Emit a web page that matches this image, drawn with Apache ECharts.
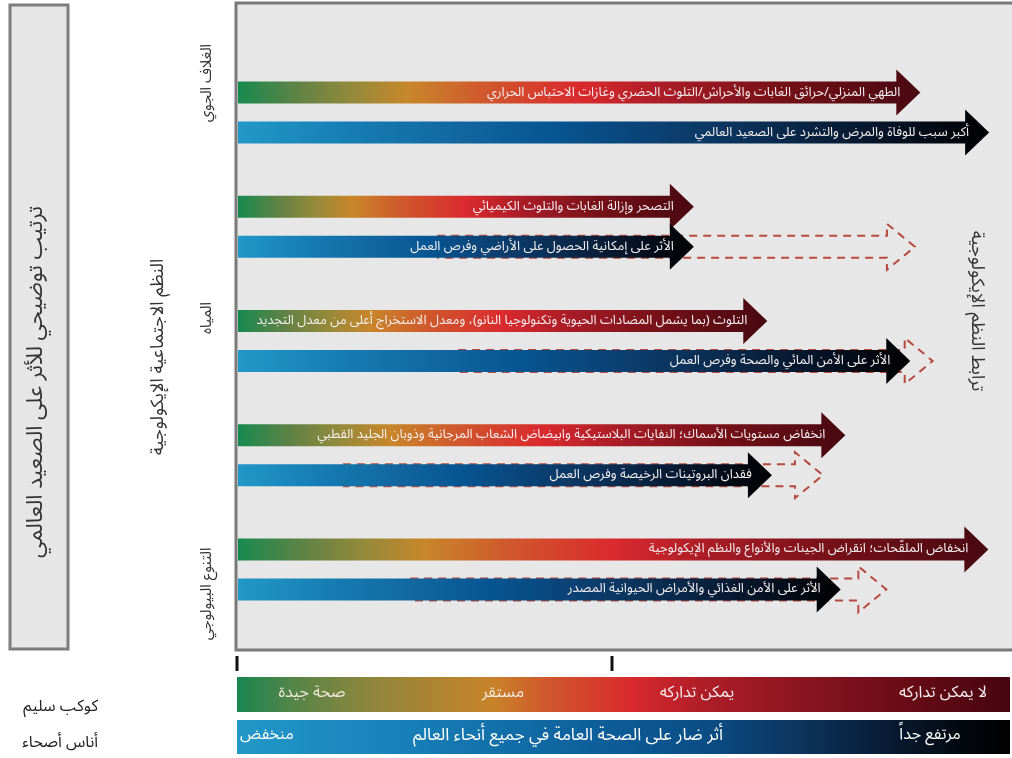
<!DOCTYPE html>
<html>
<head>
<meta charset="utf-8">
<script src="https://cdn.jsdelivr.net/npm/echarts@6/dist/echarts.min.js"></script>
<style>
html,body{margin:0;padding:0;background:#fff;}
#main{width:1012px;height:758px;}
</style>
</head>
<body>
<div id="main" dir="rtl"></div>
<script>
// ---- data ----
const systems = ['الغلاف الجوي', 'الأراضي', 'المياه', 'المحيطات', 'التنوع البيولوجي'];
const ecoLabels = [
  'الطهي المنزلي/حرائق الغابات والأحراش/التلوث الحضري وغازات الاحتباس الحراري',
  'التصحر وإزالة الغابات والتلوث الكيميائي',
  'التلوث (بما يشمل المضادات الحيوية وتكنولوجيا النانو)، ومعدل الاستخراج أعلى من معدل التجديد',
  'انخفاض مستويات الأسماك؛ النفايات البلاستيكية وابيضاض الشعاب المرجانية وذوبان الجليد القطبي',
  'انخفاض الملقّحات؛ انقراض الجينات والأنواع والنظم الإيكولوجية'
];
const ecoImpact = [88.4, 59.1, 68.6, 78.7, 97.2];
const healthLabels = [
  'أكبر سبب للوفاة والمرض والتشرد على الصعيد العالمي',
  'الأثر على إمكانية الحصول على الأراضي وفرص العمل',
  'الأثر على الأمن المائي والصحة وفرص العمل',
  'فقدان البروتينات الرخيصة وفرص العمل',
  'الأثر على الأمن الغذائي والأمراض الحيوانية المصدر'
];
const healthImpact = [97.3, 59.1, 87.1, 69.2, 78.1];
const potentialStart = [null, 25.9, 28.6, 13.7, 22.4];
const potentialImpact = [null, 87.7, 90.0, 75.8, 84.0];

const ecoScale = ['صحة جيدة', 'مستقر', 'يمكن تداركه', 'لا يمكن تداركه'];
const healthScale = ['منخفض', 'أثر ضار على الصحة العامة في جميع أنحاء العالم', 'مرتفع جداً'];
const rowNames = ['كوكب سليم', 'أناس أصحاء'];

const title = 'ترتيب توضيحي للأثر على الصعيد العالمي';
const yTitle = 'النظم الاجتماعية الإيكولوجية';
const rightTitle = 'ترابط النظم الإيكولوجية';

// ---- styles ----
const FONT = "'Noto Sans Arabic','Noto Naskh Arabic','DejaVu Sans',sans-serif";
const ROW = 0.175, BODY = 22, HEAD_H = 46, HEAD_L = 24;
// label nudges along the rotated text direction (style only)
const labelPad = [[0, 0, 0, 59], [0, 0, 0, 22], [0, 0, 0, 46], [0, 0, 0, 18], [0, 49, 0, 0]];
const warmStops = [
  [0, '#178a50'], [0.09, '#628245'], [0.17, '#958a3a'], [0.25, '#c8862a'],
  [0.36, '#d0582c'], [0.5, '#da2a2e'], [0.63, '#a81c26'], [0.8, '#741018'], [1, '#480810']
];
const blueStops = [
  [0, '#2298c8'], [0.15, '#167db4'], [0.3, '#1266a0'], [0.42, '#055592'],
  [0.55, '#0b4275'], [0.7, '#0a2d52'], [0.85, '#06152a'], [1, '#000000']
];
const legWarm = [
  [0, '#188650'], [0.08, '#5a8548'], [0.17, '#8e863c'], [0.33, '#c8832a'], [0.4, '#d0582c'],
  [0.51, '#da2a2e'], [0.6, '#b01e28'], [0.73, '#8a1520'], [0.86, '#6a0c16'], [1, '#450510']
];
const legBlue = [
  [0, '#2298c8'], [0.2, '#1882ba'], [0.35, '#126ea8'], [0.5, '#0c5a96'], [0.6, '#0a4e86'],
  [0.72, '#0c3660'], [0.84, '#081c34'], [0.94, '#03070e'], [1, '#000000']
];
function grad(stops) {
  return {type: 'linear', x: 0, y: 0, x2: 1, y2: 0,
    colorStops: stops.map(s => ({offset: s[0], color: s[1]}))};
}

function arrowRenderer(sign, labels, stops) {
  return function (params, api) {
    const cat = api.value(1);
    const tip = api.coord([api.value(0), cat]);
    const start = api.coord([api.value(2), cat]);
    const band = api.size([0, 1])[1];
    const cy = tip[1] + sign * ROW * band;
    const tx = tip[0], sx = start[0] + 1, hb = tx - HEAD_L;
    const pts = [
      [sx, cy - BODY / 2], [hb, cy - BODY / 2], [hb, cy - HEAD_H / 2], [tx, cy],
      [hb, cy + HEAD_H / 2], [hb, cy + BODY / 2], [sx, cy + BODY / 2]
    ];
    return {
      type: 'group',
      children: [
        {type: 'polygon', shape: {points: pts}, style: {fill: grad(stops)}},
        {type: 'text', style: {
          text: labels[params.dataIndex], x: hb + 4, y: cy + 1,
          align: 'right', verticalAlign: 'middle',
          fill: '#f4eeee', font: '13px ' + FONT
        }}
      ]
    };
  };
}

function dashedRenderer(params, api) {
  const cat = api.value(1);
  const tip = api.coord([api.value(0), cat]);
  const start = api.coord([api.value(2), cat]);
  const band = api.size([0, 1])[1];
  const cy = tip[1] + ROW * band;
  const tx = tip[0], sx = start[0], hb = tx - 28;
  const pts = [
    [sx, cy - BODY / 2], [hb, cy - BODY / 2], [hb, cy - HEAD_H / 2], [tx, cy],
    [hb, cy + HEAD_H / 2], [hb, cy + BODY / 2], [sx, cy + BODY / 2]
  ];
  return {type: 'polyline', shape: {points: pts},
    style: {fill: null, stroke: '#b8493e', lineWidth: 2, lineDash: [8, 6]}};
}

const ecoData = systems.map((s, i) => [ecoImpact[i], i, 0]);
const healthData = systems.map((s, i) => [healthImpact[i], i, 0]);
const potData = [];
systems.forEach((s, i) => {
  if (potentialImpact[i] != null) potData.push([potentialImpact[i], i, potentialStart[i]]);
});

const rich = {};
labelPad.forEach((p, i) => { rich['s' + i] = {padding: p, fontSize: 15, color: '#333', fontFamily: FONT}; });

const chart = echarts.init(document.getElementById('main'));
chart.setOption({
  backgroundColor: '#ffffff',
  animation: false,
  grid: {left: 237, top: 55.5, right: 2, height: 571, show: false},
  xAxis: {type: 'value', min: 0, max: 100, show: false},
  yAxis: {
    type: 'category', data: systems, inverse: true,
    axisLine: {show: false}, axisTick: {show: false}, splitLine: {show: false},
    axisLabel: {rotate: 90, margin: 21, fontSize: 15, color: '#333', fontFamily: FONT,
      formatter: (v, i) => '{s' + i + '|' + v + '}', rich: rich},
    name: yTitle, nameLocation: 'middle', nameGap: 68, nameRotate: 90,
    nameTextStyle: {fontSize: 18, color: '#333', fontFamily: FONT, padding: [0, 32, 0, 0]}
  },
  graphic: [
    {type: 'rect', z: -10, shape: {x: 236, y: 3, width: 800, height: 647},
      style: {fill: '#e6e7e6', stroke: '#7a7a7a', lineWidth: 3}},
    {type: 'rect', z: -10, shape: {x: 10, y: 5, width: 58, height: 644},
      style: {fill: '#e6e6e6', stroke: '#7d7d7d', lineWidth: 3}},
    {type: 'text', x: 39, y: 382, rotation: Math.PI / 2,
      style: {text: title, align: 'center', verticalAlign: 'middle', fill: '#333', font: '22px ' + FONT}},
    {type: 'text', x: 975, y: 311, rotation: -Math.PI / 2,
      style: {text: rightTitle, align: 'center', verticalAlign: 'middle', fill: '#333', font: '18px ' + FONT}},
    {type: 'line', shape: {x1: 237, y1: 656, x2: 237, y2: 671}, style: {stroke: '#111', lineWidth: 3}},
    {type: 'line', shape: {x1: 612, y1: 656, x2: 612, y2: 671}, style: {stroke: '#111', lineWidth: 3}},
    {type: 'rect', shape: {x: 237, y: 677, width: 773, height: 35}, style: {fill: grad(legWarm)}},
    {type: 'rect', shape: {x: 237, y: 720, width: 773, height: 34}, style: {fill: grad(legBlue)}},
    {type: 'text', x: 312, y: 695, style: {text: ecoScale[0], align: 'center', verticalAlign: 'middle', fill: '#eee8d8', font: '16px ' + FONT}},
    {type: 'text', x: 503, y: 695, style: {text: ecoScale[1], align: 'center', verticalAlign: 'middle', fill: '#f2ece0', font: '16px ' + FONT}},
    {type: 'text', x: 697, y: 695, style: {text: ecoScale[2], align: 'center', verticalAlign: 'middle', fill: '#f6eaea', font: '16px ' + FONT}},
    {type: 'text', x: 943, y: 695, style: {text: ecoScale[3], align: 'center', verticalAlign: 'middle', fill: '#f6eeee', font: '16px ' + FONT}},
    {type: 'text', x: 240, y: 737, style: {text: healthScale[0], align: 'left', verticalAlign: 'middle', fill: '#ffffff', font: '16px ' + FONT}},
    {type: 'text', x: 568, y: 737, style: {text: healthScale[1], align: 'center', verticalAlign: 'middle', fill: '#ffffff', font: '17px ' + FONT}},
    {type: 'text', x: 930, y: 737, style: {text: healthScale[2], align: 'center', verticalAlign: 'middle', fill: '#ffffff', font: '16px ' + FONT}},
    {type: 'text', x: 98, y: 709, style: {text: rowNames[0], align: 'right', verticalAlign: 'middle', fill: '#222', font: '16px ' + FONT}},
    {type: 'text', x: 98, y: 745, style: {text: rowNames[1], align: 'right', verticalAlign: 'middle', fill: '#222', font: '16px ' + FONT}}
  ],
  series: [
    {type: 'custom', z: 1, data: potData, renderItem: dashedRenderer, clip: false},
    {type: 'custom', z: 2, data: ecoData, renderItem: arrowRenderer(-1, ecoLabels, warmStops), clip: false},
    {type: 'custom', z: 2, data: healthData, renderItem: arrowRenderer(1, healthLabels, blueStops), clip: false}
  ]
});
</script>
</body>
</html>
